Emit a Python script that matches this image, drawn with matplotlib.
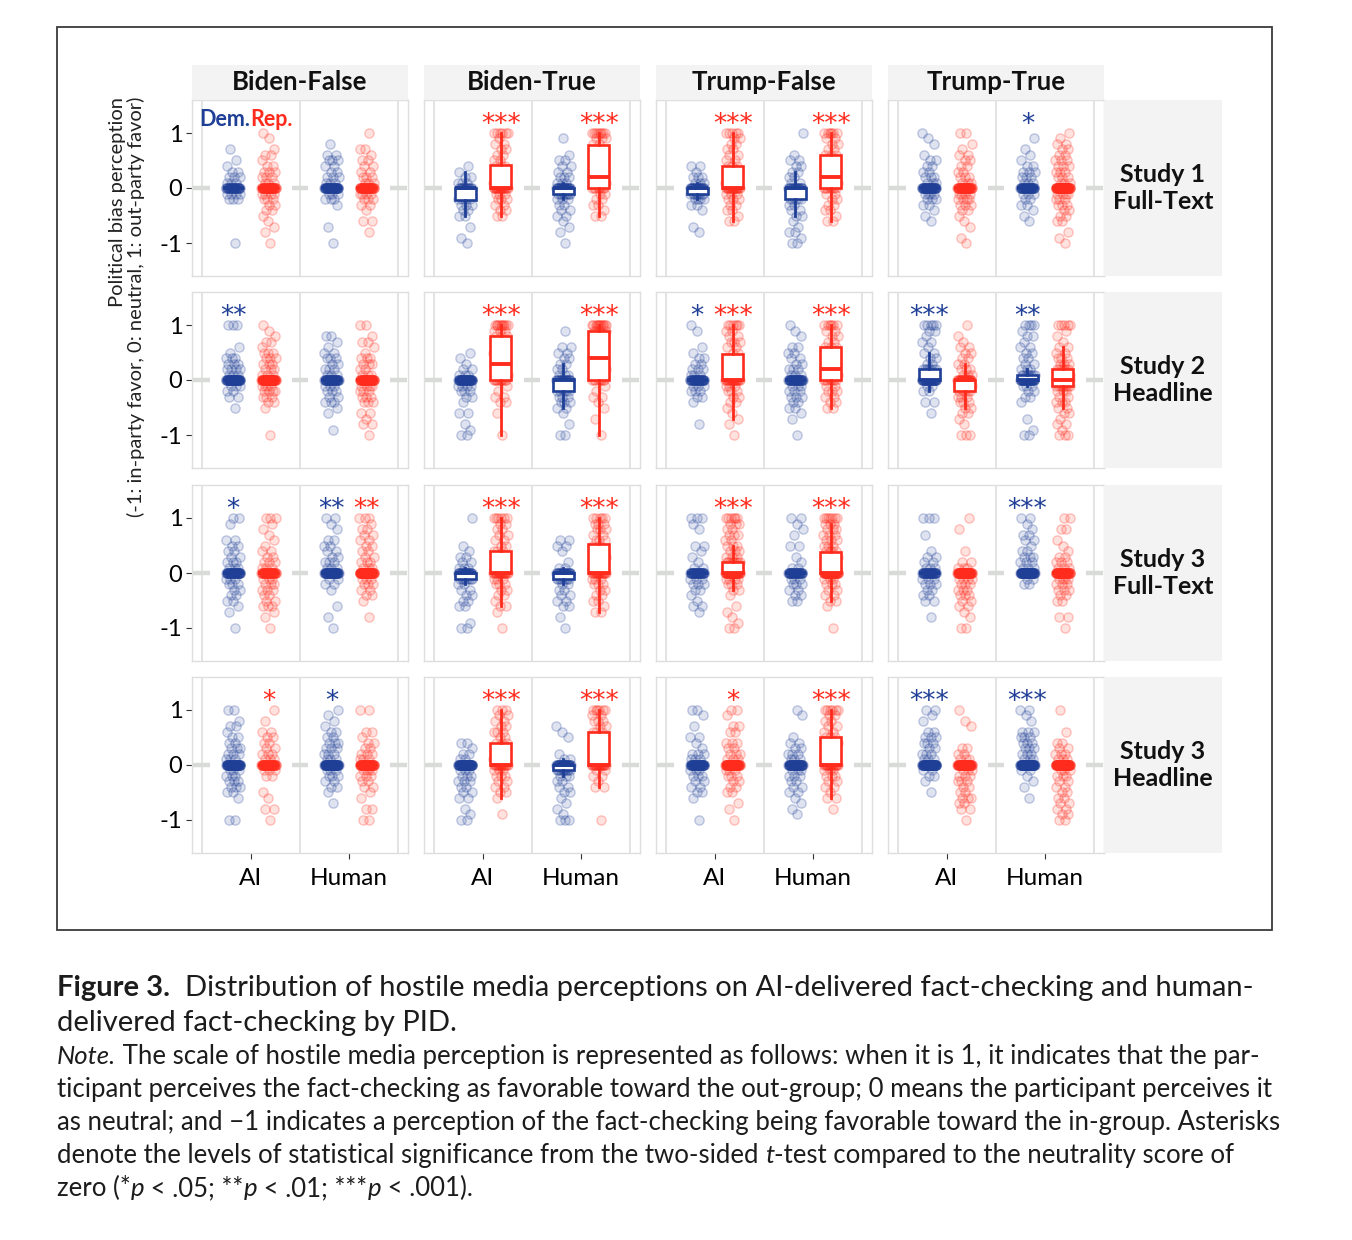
import numpy as np
import matplotlib.pyplot as plt
from matplotlib.colors import to_rgba
from matplotlib.patches import Rectangle

plt.rcParams['font.family'] = ['Lato', 'DejaVu Sans']
plt.rcParams['axes.unicode_minus'] = False

# score levels of the perception scale, -1 .. 1 by 0.1
LEVELS = [-1.0, -0.9, -0.8, -0.7, -0.6, -0.5, -0.4, -0.3, -0.2, -0.1, 0.0,
          0.1, 0.2, 0.3, 0.4, 0.5, 0.6, 0.7, 0.8, 0.9, 1.0]

COLUMNS = ["Biden-False", "Biden-True", "Trump-False", "Trump-True"]
ROWS = ["Study 1\nFull-Text", "Study 2\nHeadline", "Study 3\nFull-Text", "Study 3\nHeadline"]
SOURCES = ["AI", "Human"]

# counts of respondents at each level, one list per condition (columns order)
S1_DEM_AI = [[1,0,0,0,0,0,0,0,3,4,30,3,3,2,1,1,0,1,0,0,0],
             [1,1,0,1,0,2,2,3,5,4,14,3,2,1,1,0,0,0,0,0,0],
             [0,0,1,1,0,0,1,2,4,8,22,3,3,1,2,0,0,0,0,0,0],
             [0,0,0,0,1,1,1,2,3,4,40,3,3,2,2,2,1,0,1,1,1]]
S1_REP_AI = [[1,0,1,1,1,1,2,2,3,4,40,3,3,3,2,1,2,1,0,1,1],
             [0,0,0,0,0,2,2,2,3,3,19,4,4,3,3,2,2,2,2,1,6],
             [0,0,0,0,2,1,2,2,3,3,19,4,4,3,3,2,2,2,2,2,5],
             [1,1,0,1,1,1,2,3,4,4,42,3,3,2,2,2,2,1,1,0,2]]
S1_DEM_HU = [[1,0,0,1,0,0,0,1,3,3,42,3,3,2,2,3,2,0,1,0,0],
             [1,0,1,1,1,2,2,2,3,8,24,3,3,2,2,2,1,0,0,1,0],
             [2,1,2,1,1,2,2,2,5,7,18,2,2,2,2,2,1,0,0,0,1],
             [0,0,0,0,1,1,1,2,2,3,38,3,3,3,2,1,1,1,0,1,0]]
S1_REP_HU = [[0,0,1,0,2,0,1,2,3,4,40,3,3,2,2,2,1,2,0,0,1],
             [0,0,0,0,0,2,1,2,2,2,8,4,5,3,2,2,2,2,2,3,8],
             [0,0,0,0,2,1,2,2,2,2,8,4,5,3,3,2,3,2,2,2,6],
             [1,1,1,0,2,2,2,3,3,4,55,3,3,3,3,3,2,2,2,1,1]]

S2_DEM_AI = [[0,0,0,0,0,1,0,2,2,3,48,3,4,3,3,1,1,0,0,0,3],
             [2,1,1,0,2,0,1,2,3,4,42,3,2,1,1,1,0,0,0,0,0],
             [0,0,1,0,0,0,1,2,3,3,36,3,3,2,2,1,1,0,0,1,1],
             [0,0,0,0,1,0,2,0,2,2,40,6,7,2,2,2,1,2,1,2,5]]
S2_REP_AI = [[1,0,0,0,0,1,2,3,4,4,50,3,3,3,3,3,1,2,1,1,1],
             [1,0,0,0,1,0,2,2,1,1,10,3,4,4,3,3,3,3,3,3,10],
             [1,0,1,1,1,1,2,2,3,3,20,4,4,3,3,2,2,3,2,2,6],
             [3,0,1,1,2,2,3,3,5,6,26,3,3,2,2,2,2,1,1,0,1]]
S2_DEM_HU = [[0,1,0,0,1,1,3,2,3,3,42,3,3,2,3,2,1,1,2,0,0],
             [2,0,1,0,1,2,3,3,5,6,19,3,2,2,2,2,2,0,0,1,0],
             [1,0,0,1,1,2,2,3,3,3,40,3,3,2,2,2,2,0,1,1,1],
             [2,1,0,1,0,0,1,2,2,3,38,8,3,2,2,2,2,1,2,1,4]]
S2_REP_HU = [[1,0,2,1,2,0,3,3,3,4,44,3,2,3,3,1,1,2,1,0,2],
             [1,0,0,1,0,1,1,2,1,1,8,3,3,3,4,3,3,2,3,4,12],
             [0,0,0,0,0,2,2,2,3,2,8,4,5,3,3,2,3,2,2,2,6],
             [3,1,2,1,2,2,3,2,3,8,22,6,6,3,3,2,2,1,1,1,5]]

S3F_DEM_AI = [[1,0,0,1,1,2,2,2,3,3,40,3,3,2,2,2,2,0,0,1,2],
              [2,1,0,0,2,2,2,2,2,8,24,3,2,2,1,1,0,0,0,0,1],
              [0,0,0,1,2,1,1,2,3,3,35,2,1,1,1,2,0,0,1,1,3],
              [0,0,1,0,0,2,2,2,3,3,35,3,2,2,1,0,0,1,0,0,3]]
S3F_REP_AI = [[1,0,1,1,3,2,2,3,3,3,40,3,3,2,2,1,1,1,1,1,3],
              [1,0,0,1,2,1,2,2,3,3,20,4,4,3,3,2,2,2,2,2,6],
              [2,1,1,1,1,0,1,2,3,4,46,8,8,3,3,3,2,3,2,3,6],
              [2,0,1,1,2,2,3,3,3,4,58,3,2,0,1,0,0,0,1,0,1]]
S3F_DEM_HU = [[1,0,1,0,1,0,0,1,2,2,48,3,3,2,2,2,2,0,1,1,2],
              [1,0,1,0,2,2,2,2,2,8,22,2,1,0,1,2,2,0,0,0,0],
              [0,0,0,0,0,2,2,2,3,3,35,2,1,1,0,2,0,1,1,1,2],
              [0,0,0,0,0,0,0,0,2,2,58,3,3,3,2,1,2,2,1,1,2]]
S3F_REP_HU = [[0,0,1,0,0,1,2,2,3,3,56,3,3,2,2,2,2,2,2,1,3],
              [0,0,0,2,1,2,2,2,3,3,18,3,3,3,3,3,3,2,3,3,5],
              [1,0,0,0,1,2,2,2,3,3,48,5,5,4,4,3,3,3,3,3,7],
              [1,0,2,0,0,2,2,3,3,4,45,3,3,2,1,1,1,0,2,0,2]]

S3H_DEM_AI = [[2,0,0,0,1,2,3,3,3,3,50,3,3,3,2,2,1,2,1,0,2],
              [2,1,1,0,2,2,2,3,3,3,52,2,2,1,2,0,0,0,0,0,0],
              [1,0,0,0,1,2,2,2,3,3,45,3,3,1,1,2,0,1,0,1,2],
              [0,0,0,0,0,1,0,1,2,2,58,3,3,2,3,3,2,0,1,1,2]]
S3H_REP_AI = [[1,0,2,0,1,1,0,0,2,3,45,3,3,2,2,2,2,0,1,0,1],
              [0,1,0,0,1,2,2,2,3,3,16,4,4,3,3,2,3,2,2,2,3],
              [1,0,1,1,0,2,2,2,3,3,55,3,3,2,3,0,2,2,0,1,2],
              [1,0,2,2,3,2,2,3,3,3,55,3,2,2,0,0,0,1,1,0,1]]
S3H_DEM_HU = [[0,0,0,1,0,1,2,2,3,3,52,3,3,3,3,2,2,1,1,1,1],
              [3,1,1,1,1,2,2,2,3,10,36,2,1,0,0,1,1,1,0,0,0],
              [0,1,1,1,1,2,2,2,3,3,48,3,3,2,2,1,0,0,0,1,1],
              [0,0,0,0,1,0,1,1,1,2,62,3,3,3,3,3,3,0,1,1,2]]
S3H_REP_HU = [[2,0,2,0,1,1,2,2,3,4,50,3,3,2,2,1,2,0,0,0,2],
              [1,0,0,0,0,0,2,1,2,2,20,2,2,2,2,2,3,2,3,2,6],
              [0,0,1,0,2,1,2,2,3,3,17,3,3,3,3,3,2,2,2,2,6],
              [2,2,2,2,2,2,2,2,3,3,62,3,3,2,2,0,1,0,0,0,1]]

# significance marks: [Dem AI, Rep AI, Dem Human, Rep Human] per condition
S1_STARS = [["", "", "", ""], ["", "***", "", "***"], ["", "***", "", "***"], ["", "", "*", ""]]
S2_STARS = [["**", "", "", ""], ["", "***", "", "***"], ["*", "***", "", "***"], ["***", "", "**", ""]]
S3F_STARS = [["*", "", "**", "**"], ["", "***", "", "***"], ["", "***", "", "***"], ["", "", "***", ""]]
S3H_STARS = [["", "*", "*", ""], ["", "***", "", "***"], ["", "*", "", "***"], ["***", "", "***", ""]]

DATA = [
    (S1_DEM_AI, S1_REP_AI, S1_DEM_HU, S1_REP_HU, S1_STARS),
    (S2_DEM_AI, S2_REP_AI, S2_DEM_HU, S2_REP_HU, S2_STARS),
    (S3F_DEM_AI, S3F_REP_AI, S3F_DEM_HU, S3F_REP_HU, S3F_STARS),
    (S3H_DEM_AI, S3H_REP_AI, S3H_DEM_HU, S3H_REP_HU, S3H_STARS),
]

DEM = "#1f3f97"
REP = "#ff2b1c"
STRIP = "#f2f3f2"

W, H = 1352, 1240
fig = plt.figure(figsize=(W / 100, H / 100), dpi=100)
fig.patch.set_facecolor("white")


def frac(x, y, w, h):
    # pixel box (top-left origin) -> figure fraction rect
    return [x / W, 1 - (y + h) / H, w / W, h / H]


COL_X = [192, 424, 656, 888]
ROW_Y = [100, 292, 485, 677]
PW, PH = 216, 176
GROUP_POS = [0.82, 1.18, 1.82, 2.18]
GROUP_COL = [DEM, REP, DEM, REP]


def jitter(n):
    k = np.arange(1, n + 1)
    return ((k * 0.6180339887) % 1 - 0.5) * 0.15


for r in range(4):
    dem_ai, rep_ai, dem_hu, rep_hu, stars = DATA[r]
    for c in range(4):
        ax = fig.add_axes(frac(COL_X[c], ROW_Y[r], PW, PH))
        ax.set_xlim(0.4, 2.6)
        ax.set_ylim(-1.6, 1.6)
        for s in ax.spines.values():
            s.set_color("#dedede")
            s.set_linewidth(1)
        for b in (0.5, 1.5, 2.5):
            ax.axvline(b, color="#e2e2e2", lw=1.3, zorder=0)
            ax.plot([b - 0.085, b + 0.085], [0, 0], color="#d8dbd8", lw=3.2,
                    solid_capstyle="butt", zorder=1)

        groups = [dem_ai[c], rep_ai[c], dem_hu[c], rep_hu[c]]
        for g, counts in enumerate(groups):
            vals = np.repeat(LEVELS, counts)
            col = GROUP_COL[g]
            pos = GROUP_POS[g]
            ax.scatter(pos + jitter(len(vals)), vals, s=44,
                       facecolors=[to_rgba(col, 0.14)],
                       edgecolors=[to_rgba(col, 0.26)], linewidths=1.0, zorder=2)
            ax.boxplot(vals, positions=[pos], widths=0.21, whis=1.5,
                       showfliers=False, showcaps=False, patch_artist=True,
                       manage_ticks=False, zorder=3,
                       boxprops=dict(facecolor="white", edgecolor=col, linewidth=1.9),
                       medianprops=dict(color=col, linewidth=2.8, solid_capstyle="butt"),
                       whiskerprops=dict(color=col, linewidth=2.0))
            if stars[c][g]:
                ax.text(pos, 1.01, stars[c][g], color=col, ha="center", va="baseline",
                        fontsize=19, family="DejaVu Sans")

        ax.set_yticks([-1, 0, 1])
        ax.set_xticks([1, 2])
        if c == 0:
            ax.set_yticklabels(["-1", "0", "1"])
            ax.tick_params(axis="y", labelsize=17, length=4, color="#333333", pad=3)
        else:
            ax.tick_params(axis="y", length=0, labelleft=False)
        if r == 3:
            ax.set_xticklabels(SOURCES)
            ax.tick_params(axis="x", labelsize=17.5, length=4, color="#333333", pad=7)
        else:
            ax.tick_params(axis="x", length=0, labelbottom=False)

        if r == 0 and c == 0:
            ax.text(0.99, 1.24, "Dem.", color=DEM, fontsize=15.5, fontweight="bold",
                    ha="right", va="center")
            ax.text(0.99, 1.24, "Rep.", color=REP, fontsize=15.5, fontweight="bold",
                    ha="left", va="center")

# facet strips
for c in range(4):
    fig.add_artist(Rectangle((COL_X[c] / W, 1 - 100 / H), PW / W, 35 / H,
                             transform=fig.transFigure, facecolor=STRIP, edgecolor="none"))
    fig.text((COL_X[c] + PW / 2) / W, 1 - 82.5 / H, COLUMNS[c], ha="center", va="center",
             fontsize=18.5, fontweight="bold", color="#111111")
for r in range(4):
    fig.add_artist(Rectangle((1104 / W, 1 - (ROW_Y[r] + PH) / H), 118 / W, PH / H,
                             transform=fig.transFigure, facecolor=STRIP, edgecolor="none"))
    fig.text(1163 / W, 1 - (ROW_Y[r] + PH / 2) / H, ROWS[r], ha="center", va="center",
             fontsize=18, fontweight="bold", color="#111111", linespacing=1.2)

fig.text(127 / W, 1 - 97 / H,
         "Political bias perception\n(-1: in-party favor, 0: neutral, 1: out-party favor)",
         rotation=90, ha="center", va="top", multialignment="right",
         fontsize=14.5, color="#222222", linespacing=1.1)

# outer frame
fig.add_artist(Rectangle((57 / W, 1 - 930 / H), (1272 - 57) / W, (930 - 27) / H,
                         transform=fig.transFigure, fill=False, edgecolor="#3a3a3a", lw=1.3))

# caption
renderer = fig.canvas.get_renderer()
STYLE = {"r": {}, "b": {"fontweight": "bold"}, "i": {"fontstyle": "italic"}}


def width_of(s, **kw):
    t = fig.text(0, 0, "|" + s + "|", **kw)
    w = t.get_window_extent(renderer=renderer).width
    t.remove()
    t = fig.text(0, 0, "||", **kw)
    w -= t.get_window_extent(renderer=renderer).width
    t.remove()
    return w


def line_width(segs, size):
    return sum(width_of(txt, fontsize=size, **STYLE[st]) for txt, st in segs)


def draw_line(segs, x, y, size):
    for txt, st in segs:
        kw = dict(fontsize=size, **STYLE[st])
        fig.text(x / W, 1 - y / H, txt, ha="left", va="baseline", color="#1c1c1c", **kw)
        x += width_of(txt, **kw)


TITLE = [
    [("Figure 3.", "b"), ("  Distribution of hostile media perceptions on AI-delivered fact-checking and human-", "r")],
    [("delivered fact-checking by PID.", "r")],
]
NOTE = [
    [("Note.", "i"), (" The scale of hostile media perception is represented as follows: when it is 1, it indicates that the par-", "r")],
    [("ticipant perceives the fact-checking as favorable toward the out-group; 0 means the participant perceives it", "r")],
    [("as neutral; and \u22121 indicates a perception of the fact-checking being favorable toward the in-group. Asterisks", "r")],
    [("denote the levels of statistical significance from the two-sided ", "r"), ("t", "i"),
     ("-test compared to the neutrality score of", "r")],
    [("zero (*", "r"), ("p", "i"), (" < .05; **", "r"), ("p", "i"), (" < .01; ***", "r"), ("p", "i"), (" < .001).", "r")],
]

title_size = 10 * 1198 / line_width(TITLE[0], 10)
note_size = 10 * 1200 / line_width(NOTE[0], 10)
for i, segs in enumerate(TITLE):
    draw_line(segs, 57, 996 + 35 * i, title_size)
for i, segs in enumerate(NOTE):
    draw_line(segs, 57, 1064 + 33 * i, note_size)

fig.savefig("out.png", dpi=100, facecolor="white")
